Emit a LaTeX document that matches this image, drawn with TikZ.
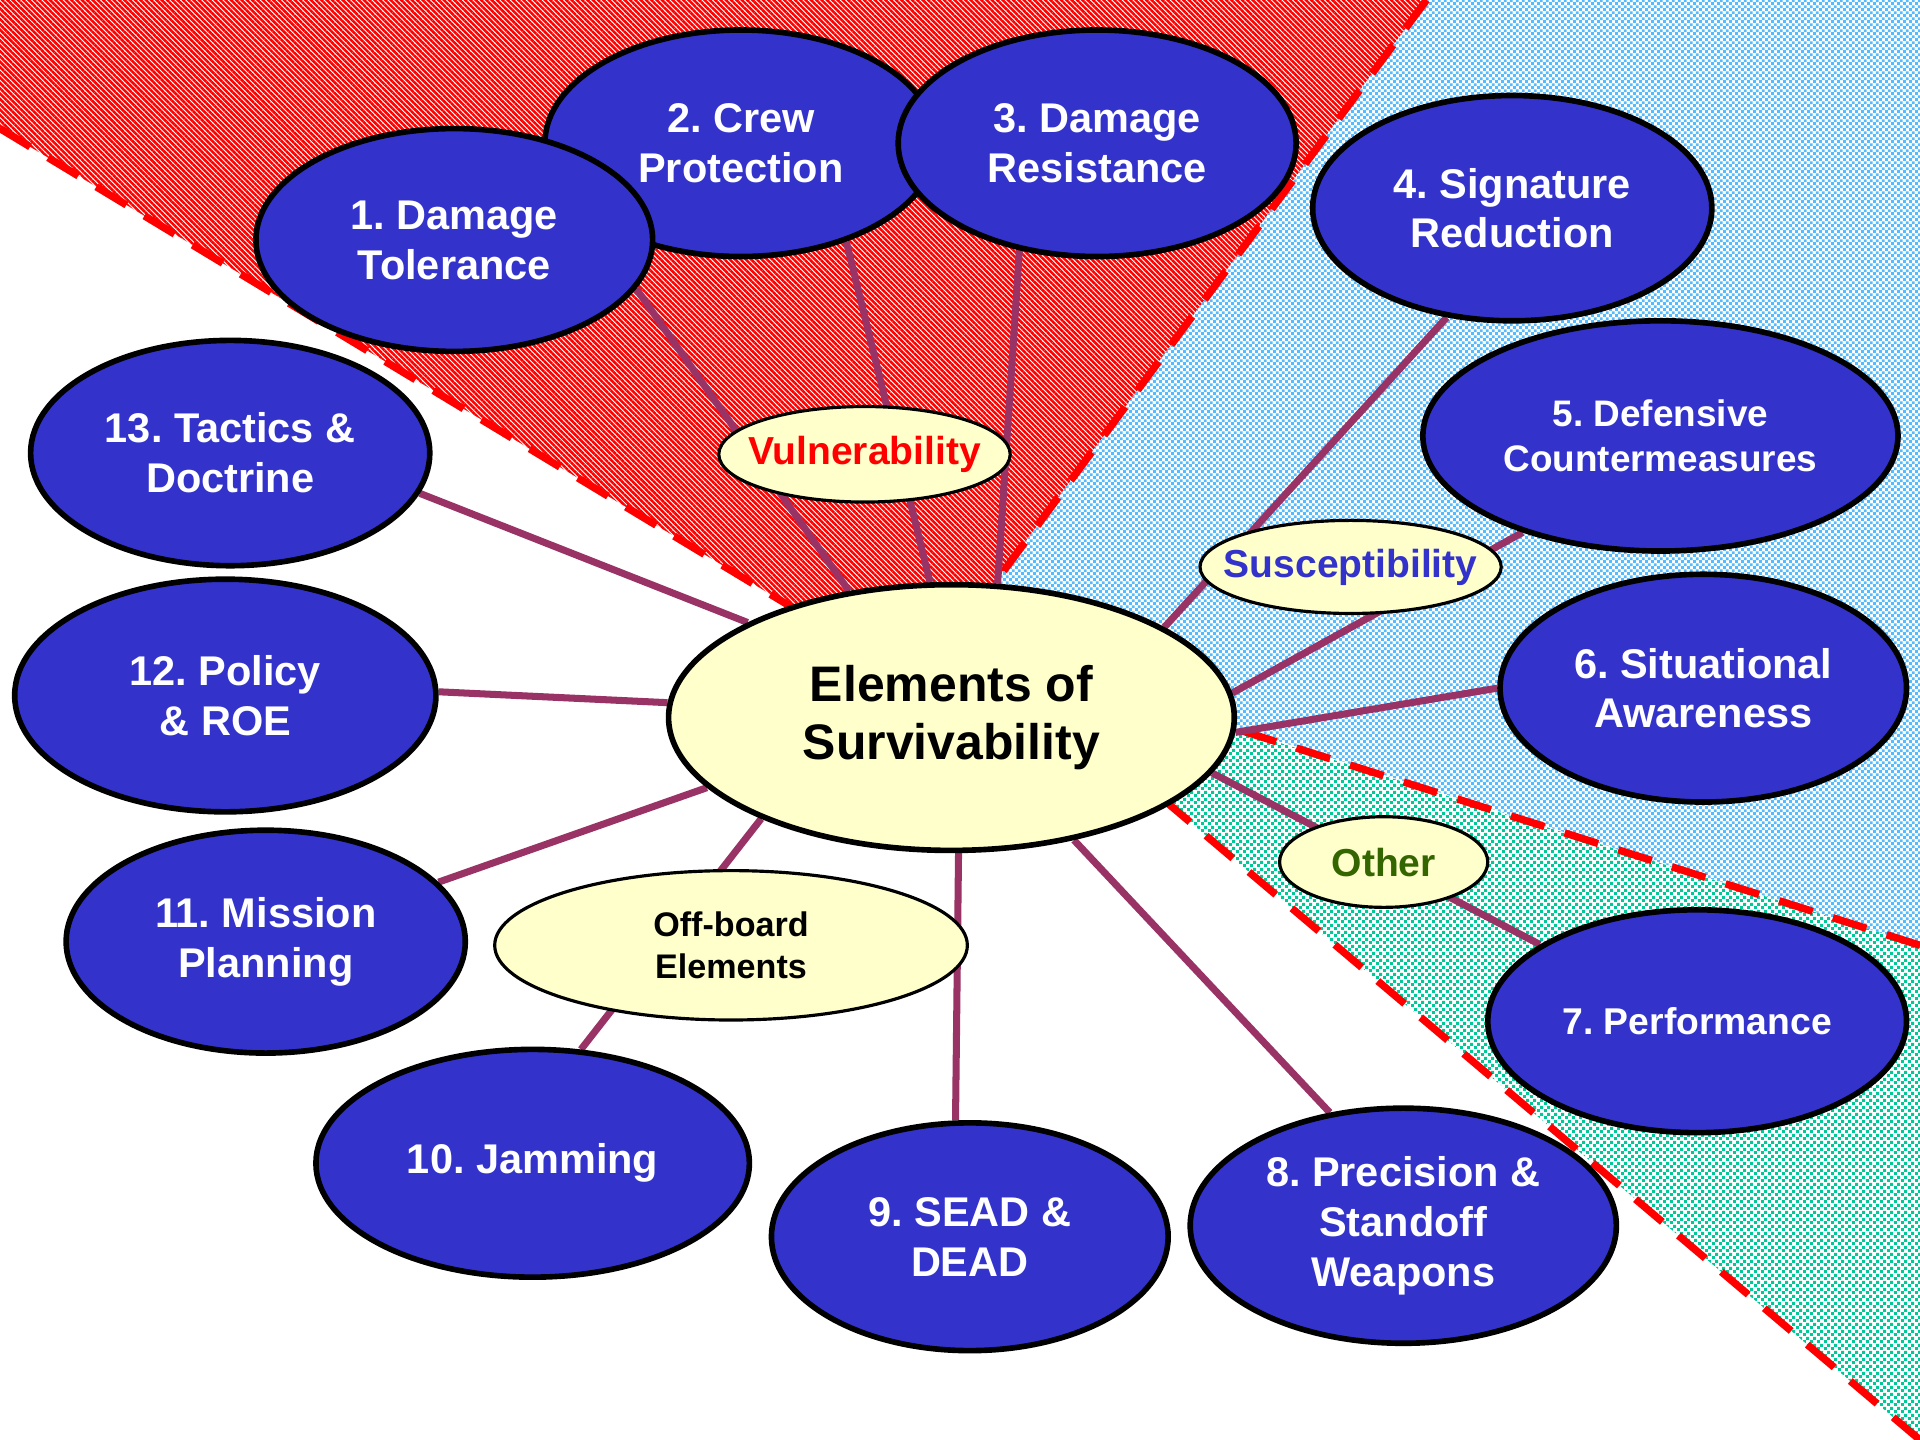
\documentclass[tikz,border=0pt]{standalone}
\usepackage{fontspec}
\setmainfont{Liberation Sans}
\usetikzlibrary{shapes.geometric,patterns.meta}
\frenchspacing

\definecolor{nodeblue}{HTML}{3333CC}
\definecolor{linkpurple}{HTML}{993366}
\definecolor{paleyellow}{HTML}{FFFFCC}
\definecolor{skyblue}{HTML}{55BBFF}
\definecolor{seagreen}{HTML}{00C896}
\definecolor{labelgreen}{HTML}{336600}

% fine two-colour checkerboard
\tikzdeclarepattern{
  name=finechecker,
  type=uncolored,
  bounding box={(0pt,0pt) and (1.8pt,1.8pt)},
  tile size={(1.8pt,1.8pt)},
  code={
    \fill (0pt,0pt) rectangle (0.9pt,0.9pt);
    \fill (0.9pt,0.9pt) rectangle (1.8pt,1.8pt);
  }
}
% small staggered squares
\tikzdeclarepattern{
  name=finedots,
  type=uncolored,
  bounding box={(0pt,0pt) and (2pt,2pt)},
  tile size={(2pt,2pt)},
  code={
    \fill (0pt,0pt) rectangle (0.95pt,0.95pt);
    \fill (1pt,1pt) rectangle (1.95pt,1.95pt);
  }
}

\pgfdeclarelayer{zones}
\pgfdeclarelayer{links}
\pgfsetlayers{zones,links,main}

\def\pxu{0.012245cm}

\tikzset{
  topic/.style={ellipse, draw=black, line width=1.6pt, fill=nodeblue, text=white,
    font=\bfseries\fontsize{11.8}{14.2}\selectfont, align=center, inner sep=0pt},
  hub/.style={ellipse, draw=black, line width=1.6pt, fill=paleyellow,
    font=\bfseries\fontsize{14.2}{16.3}\selectfont, align=center, inner sep=0pt},
  tag/.style={ellipse, draw=black, line width=0.9pt, fill=paleyellow,
    font=\bfseries\fontsize{11.1}{13}\selectfont, align=center, inner sep=0pt},
  elsize/.style 2 args={minimum width=#1*\pxu, minimum height=#2*\pxu},
  link/.style={draw=linkpurple, line width=2pt},
  zoneedge/.style={draw=red, line width=2.1pt, dash pattern=on 10pt off 6pt},
}

\begin{document}
\begin{tikzpicture}[x=\pxu, y=-\pxu]
\useasboundingbox (0,0) rectangle (1568,1176);

% corner points of the three shaded sectors
\coordinate (redleft) at (0,105);
\coordinate (redtop) at (1165,0);
\coordinate (redapex) at (751,559);
\coordinate (blueapex) at (779,521);
\coordinate (blueright) at (1568,772);
\coordinate (greenapex) at (806,531);
\coordinate (greencorner) at (1568,1176);

\begin{pgfonlayer}{zones}
  \fill[white] (0,0) rectangle (1568,1176);
  \fill[pattern={Lines[angle=-45,distance=1.07pt,line width=0.72pt]}, pattern color=red]
    (0,0) -- (redtop) -- (redapex) -- (redleft) -- cycle;
  \fill[pattern=finechecker, pattern color=skyblue]
    (redtop) -- (1568,0) -- (blueright) -- (blueapex) -- cycle;
  \fill[pattern=finedots, pattern color=seagreen]
    (greenapex) -- (blueright) -- (greencorner) -- cycle;
  \draw[zoneedge] (redleft) -- (redapex);
  \draw[zoneedge] (redtop) -- (redapex);
  \draw[zoneedge] (blueright) -- (greenapex);
  \draw[zoneedge] (greencorner) -- (greenapex);
\end{pgfonlayer}

% centre
\node[hub, elsize={462}{217}] (c) at (777,586) {Elements of\\Survivability};

% elements
\node[topic, elsize={320}{185}] (n2) at (605,117) {2. Crew\\Protection};
\node[topic, elsize={324}{182}] (n1) at (371,196) {1. Damage\\Tolerance};
\node[topic, elsize={325}{185}] (n3) at (896,117) {3. Damage\\Resistance};
\node[topic, elsize={326}{184}] (n4) at (1235,170) {4. Signature\\Reduction};
\node[topic, elsize={388}{188}, font=\bfseries\fontsize{10.5}{12.8}\selectfont] (n5) at (1356,356) {5. Defensive\\Countermeasures};
\node[topic, elsize={332}{186}] (n6) at (1391,562) {6. Situational\\Awareness};
\node[topic, elsize={342}{182}, font=\bfseries\fontsize{10.6}{12.8}\selectfont] (n7) at (1386,834) {7. Performance};
\node[topic, elsize={348}{192}] (n8) at (1146,1001) {8. Precision \&\\Standoff\\Weapons};
\node[topic, elsize={324}{186}] (n9) at (792,1010) {9. SEAD \&\\DEAD};
\node[topic, elsize={354}{186}] (n10) at (435,950) {10. Jamming};
\node[topic, elsize={326}{182}] (n11) at (217,769) {11. Mission\\Planning};
\node[topic, elsize={344}{190}] (n12) at (184,568) {12. Policy\\\& ROE};
\node[topic, elsize={326}{184}] (n13) at (188,370) {13. Tactics \&\\Doctrine};

% group labels
\node[tag, elsize={238}{78}, text=red] (vul) at (706,371) {\makebox[0pt]{Vulnerability}};
\node[tag, elsize={246}{76}, text=nodeblue] (sus) at (1103,463) {\makebox[0pt]{Susceptibility}};
\node[tag, elsize={170}{74}, text=labelgreen] (oth) at (1130,704) {Other};
\node[tag, elsize={386}{122}, font=\bfseries\fontsize{9.7}{11.8}\selectfont] (off) at (597,772) {Off-board\\Elements};

% spokes
\begin{pgfonlayer}{links}
  \draw[link] (c.129) -- (n1.-15);
  \draw[link] (c.99) -- (n2.-43);
  \draw[link] (c.71) -- (n3.-126);
  \draw[link] (c.23) -- (n4.-121);
  \draw[link] (c.5) -- (n5.-145);
  \draw[link] (c.-3) -- (n6.180);
  \draw[link] (c.-12) -- (n7.154);
  \draw[link] (c.-45) -- (n8.123);
  \draw[link] (c.-87) -- (n9.97);
  \draw[link] (c.-152) -- (n10.67);
  \draw[link] (c.-164) -- (n11.19);
  \draw[link] (c.177) -- (n12.1);
  \draw[link] (c.155) -- (n13.-12);
\end{pgfonlayer}
\end{tikzpicture}
\end{document}
